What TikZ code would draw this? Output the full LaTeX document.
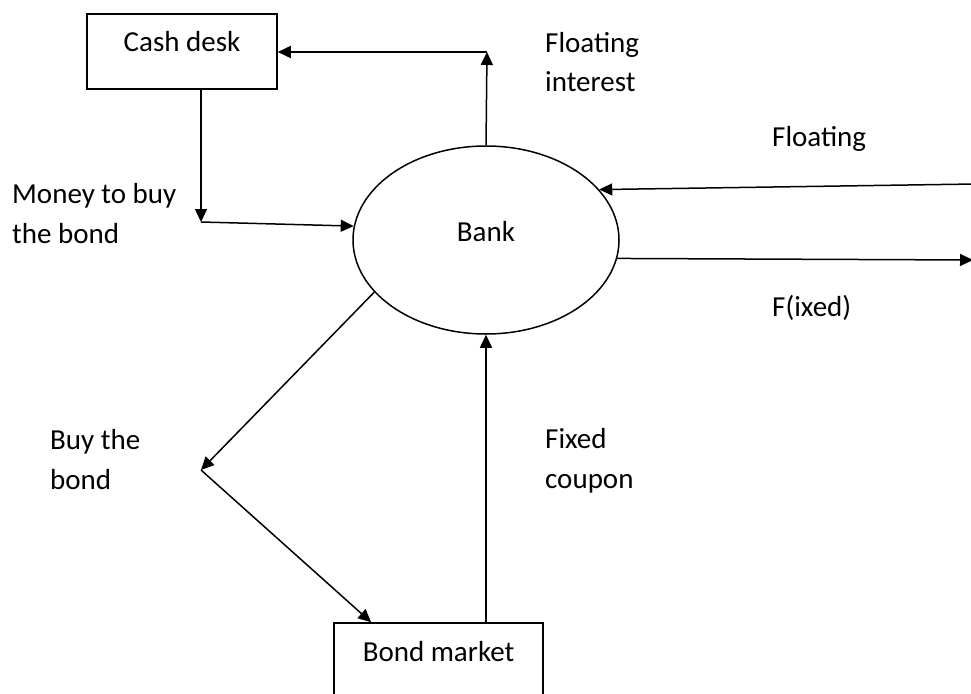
\documentclass[tikz,border=0pt]{standalone}
\usepackage{fontspec}
\setmainfont{Carlito}
\usetikzlibrary{arrows.meta,shapes.geometric,calc}

\tikzset{
  flow/.style={line width=1.5pt, -{Triangle[length=13pt,width=12pt]}},
  boxnode/.style={draw, line width=1.5pt, minimum width=190pt, minimum height=75pt,
    inner sep=0pt, text height=19pt, text depth=18pt},
  lbl/.style={inner sep=0pt, anchor=base west, align=left},
  txt/.style={font=\fontsize{29}{39.5}\selectfont}
}

\begin{document}
\begin{tikzpicture}[x=1pt, y=-1pt, txt]
  \clip (0,0) rectangle (971,693);
  \fill[white] (0,0) rectangle (971,693);

  % participants
  \node[boxnode] (cash) at (182,51.5) {Cash desk};
  \node[boxnode, minimum width=209pt] (bond) at (438.5,660.5) {Bond market};
  \node[draw, ellipse, line width=1.5pt, minimum width=266pt, minimum height=188pt,
        inner sep=0pt, text height=19pt, text depth=17pt] (bank) at (486,240) {Bank};

  % corner and edge points of the flows
  \coordinate (up) at (487,52);
  \coordinate (down) at (201,222);
  \coordinate (buy) at (201,470);
  \coordinate (swapin) at (975,184);
  \coordinate (swapout) at (973,260);

  % floating interest back to the cash desk
  \draw[flow] (bank.north) -- (up);
  \draw[flow] (up) -- (up -| cash.east);

  % money to buy the bond
  \draw[flow] (cash.south -| down) -- (down);
  \draw[flow] (down) -- (bank.174);

  % swap legs
  \draw[flow] (swapin) -- (bank.24);
  \draw[flow] (bank.-8) -- (swapout);

  % buying the bond
  \draw[flow] (bank.205) -- (buy);
  \draw[flow] (buy) -- ($(bond.north west)!0.18!(bond.north east)$);

  % fixed coupon
  \draw[flow] (bank.south |- bond.north) -- (bank.south);

  % labels (two-line labels are placed by the baseline of their last line)
  \node[lbl] (lmoney) at (12,243) {Money to buy\\the bond};
  \node[lbl] (lfloatint) at (545,92) {Floating\\interest};
  \node[lbl] (lfloat) at (772,146) {Floating};
  \node[lbl] (lfixed) at (772,316) {F(ixed)};
  \node[lbl] (lbuy) at (50,489) {Buy the\\bond};
  \node[lbl] (lcoupon) at (545,488) {Fixed\\coupon};
\end{tikzpicture}
\end{document}
